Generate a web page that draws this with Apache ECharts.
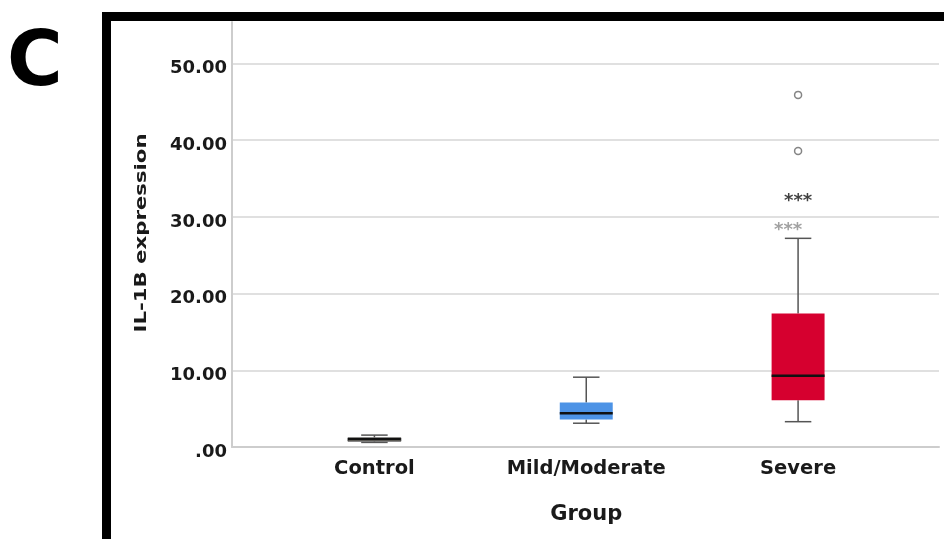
<!DOCTYPE html>
<html>
<head>
<meta charset="utf-8">
<script src="https://cdn.jsdelivr.net/npm/echarts@6/dist/echarts.min.js"></script>
<style>
  html, body { margin: 0; padding: 0; background: #fff; }
  #chart { width: 944px; height: 539px; }
</style>
</head>
<body>
<div id="chart"></div>
<script>
  // categories on the x axis
  const categories = ['Control', 'Mild/Moderate', 'Severe']
  // [lower whisker, Q1, median, Q3, upper whisker]
  const controlBox = [0.6, 0.75, 1.0, 1.2, 1.55]
  const mildBox = [3.1, 3.6, 4.4, 5.8, 9.1]
  const severeBox = [3.3, 6.1, 9.3, 17.4, 27.2]
  // outliers (circles) and extremes (stars): [category index, value]
  const outliers = [[2, 45.9], [2, 38.6]]
  const extremes = [[2, 32.4], [2, 28.7]]
  // y axis
  const yMax = 55.4
  const yStep = 10

  const boxes = [controlBox, mildBox, severeBox]
  const boxColors = ['#bdb9aa', '#4d93e6', '#d6002f']
  const font = 'DejaVu Sans'

  /** draw one box with half-width whisker caps */
  const renderBox = (params, api) => {
    const i = api.value(0)
    const pLo = api.coord([i, api.value(1)])
    const pQ1 = api.coord([i, api.value(2)])
    const pMed = api.coord([i, api.value(3)])
    const pQ3 = api.coord([i, api.value(4)])
    const pHi = api.coord([i, api.value(5)])
    const band = api.size([1, 0])[0]
    const bw = band * 0.25
    const cw = bw / 2
    const x = pMed[0]
    const wStyle = { stroke: '#555', lineWidth: 1.5 }
    return {
      type: 'group',
      children: [
        { type: 'line', shape: { x1: x, y1: pLo[1], x2: x, y2: pQ1[1] }, style: wStyle },
        { type: 'line', shape: { x1: x, y1: pQ3[1], x2: x, y2: pHi[1] }, style: wStyle },
        { type: 'line', shape: { x1: x - cw / 2, y1: pLo[1], x2: x + cw / 2, y2: pLo[1] }, style: wStyle },
        { type: 'line', shape: { x1: x - cw / 2, y1: pHi[1], x2: x + cw / 2, y2: pHi[1] }, style: wStyle },
        {
          type: 'rect',
          shape: { x: x - bw / 2, y: pQ3[1], width: bw, height: pQ1[1] - pQ3[1] },
          style: { fill: boxColors[i], stroke: '#666', lineWidth: i === 0 ? 1 : 0 }
        },
        { type: 'line', shape: { x1: x - bw / 2, y1: pMed[1], x2: x + bw / 2, y2: pMed[1] }, style: { stroke: '#111', lineWidth: 2.5 } }
      ]
    }
  }

  const chart = echarts.init(document.getElementById('chart'))
  chart.setOption({
    animation: false,
    backgroundColor: '#fff',
    grid: [
      { left: 232, right: 5, top: 22, bottom: 92 },
      { left: 268.5, right: 40, top: 22, bottom: 92 }
    ],
    xAxis: [
      {
        gridIndex: 0,
        type: 'value',
        min: 0,
        max: 1,
        axisLine: { show: true, lineStyle: { color: '#cdcdcd', width: 2 } },
        axisTick: { show: false },
        axisLabel: { show: false },
        splitLine: { show: false }
      },
      {
        gridIndex: 1,
        type: 'category',
        data: categories,
        axisLine: { show: false },
        axisTick: { show: false },
        axisLabel: {
          margin: 12,
          color: '#1a1a1a',
          fontFamily: font,
          fontWeight: 'bold',
          fontSize: 19.5
        },
        name: 'Group',
        nameLocation: 'middle',
        nameGap: 57,
        nameTextStyle: { color: '#1a1a1a', fontFamily: font, fontWeight: 'bold', fontSize: 21 }
      }
    ],
    yAxis: [
      {
        gridIndex: 0,
        type: 'value',
        min: 0,
        max: yMax,
        interval: yStep,
        axisLine: { show: true, lineStyle: { color: '#cdcdcd', width: 2 } },
        axisTick: { show: false },
        axisLabel: {
          margin: 5,
          verticalAlign: 'top',
          lineHeight: 10,
          color: '#1a1a1a',
          fontFamily: font,
          fontWeight: 'bold',
          fontSize: 18,
          formatter: (v) => (v % yStep !== 0 ? '' : v === 0 ? '.00' : v.toFixed(2))
        },
        splitLine: { show: true, showMaxLine: false, showMinLine: false, lineStyle: { color: '#d6d6d6', width: 1.5 } }
      },
      {
        gridIndex: 1,
        type: 'value',
        min: 0,
        max: yMax,
        show: false
      }
    ],
    graphic: [
      {
        type: 'rect',
        shape: { x: 106.5, y: 16.5, width: 1200, height: 900 },
        style: { fill: 'none', stroke: '#000', lineWidth: 9 },
        z: 100
      },
      {
        type: 'text',
        style: {
          text: 'C',
          x: 35,
          y: 65.5,
          align: 'center',
          verticalAlign: 'middle',
          fontFamily: font,
          fontWeight: 'bold',
          fontSize: 76,
          fill: '#000'
        }
      },
      {
        // y axis title, stretched along its length like the source figure
        type: 'text',
        x: 142,
        y: 233,
        rotation: Math.PI / 2,
        scaleX: 1.37,
        style: {
          text: 'IL-1B expression',
          align: 'center',
          verticalAlign: 'middle',
          fontFamily: font,
          fontWeight: 'bold',
          fontSize: 15.5,
          fill: '#1a1a1a'
        }
      }
    ],
    series: [
      {
        type: 'custom',
        xAxisIndex: 1,
        yAxisIndex: 1,
        renderItem: renderBox,
        encode: { x: 0, y: [1, 2, 3, 4, 5] },
        data: boxes.map((b, i) => [i, ...b]),
        z: 3
      },
      {
        type: 'scatter',
        xAxisIndex: 1,
        yAxisIndex: 1,
        symbol: 'circle',
        symbolSize: 7,
        itemStyle: { color: '#fff', borderColor: '#666', borderWidth: 1.5 },
        data: outliers,
        z: 4
      },
      {
        type: 'scatter',
        xAxisIndex: 1,
        yAxisIndex: 1,
        symbolSize: 0,
        data: extremes.map((p, k) => ({
          value: p,
          label: {
            show: true,
            formatter: '***',
            position: 'inside',
            offset: [k === 0 ? 0 : -10, 3],
            fontFamily: font,
            fontWeight: 'bold',
            fontSize: 18,
            color: k === 0 ? '#111' : '#8a8a8a'
          }
        })),
        z: 4
      }
    ]
  })
</script>
</body>
</html>
